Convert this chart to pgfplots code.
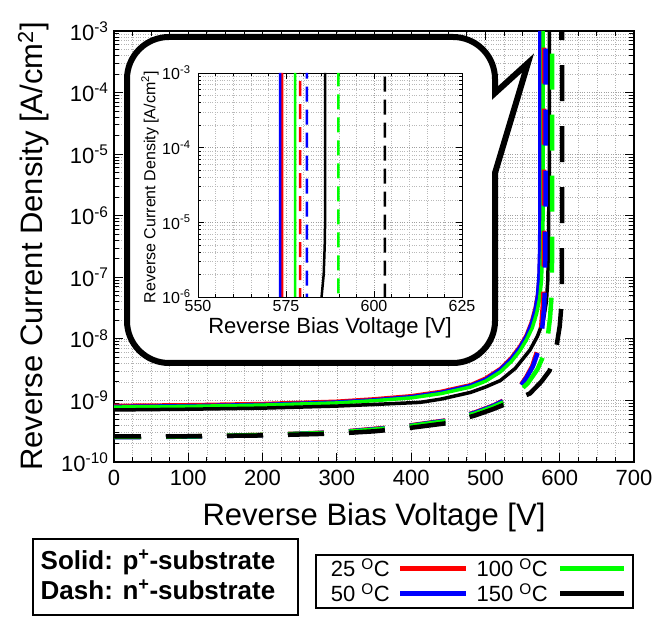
\documentclass[border=0pt]{standalone}
\usepackage{pgfplots}
\pgfplotsset{compat=1.18}
\usepackage{pgfplotstable}
\usepackage{fontspec}
\setmainfont{Liberation Sans}

% p+-substrate (solid)
\pgfplotstableread{
V J
0 8.3e-10
100 8.5e-10
200 8.9e-10
300 9.7e-10
350 1.06e-9
400 1.19e-9
440 1.40e-9
480 1.80e-9
500 2.30e-9
520 3.30e-9
535 5.00e-9
546 7.50e-9
555 1.15e-8
562 1.90e-8
567 3.20e-8
570.5 5.5e-8
572.5 1.1e-7
573.6 3.5e-7
573.9 1e-6
573.9 1e-3
}\pR
\pgfplotstableread{
V J
0 8.0e-10
100 8.2e-10
200 8.6e-10
300 9.4e-10
350 1.02e-9
400 1.15e-9
440 1.35e-9
480 1.75e-9
500 2.2e-9
520 3.2e-9
535 4.8e-9
546 7.2e-9
555 1.1e-8
562 1.8e-8
567 3.0e-8
570 5.0e-8
572 1.0e-7
573 3.0e-7
573.3 1e-6
573.3 1e-3
}\pB
\pgfplotstableread{
V J
0 7.8e-10
100 8.0e-10
200 8.4e-10
300 9.1e-10
350 9.9e-10
400 1.10e-9
440 1.29e-9
480 1.65e-9
500 2.05e-9
520 2.9e-9
535 4.3e-9
546 6.3e-9
555 9.5e-9
563 1.5e-8
569 2.6e-8
573 4.5e-8
575.5 9e-8
577 3e-7
577.6 1e-6
577.6 1e-3
}\pG
\pgfplotstableread{
V J
0 7.0e-10
100 7.2e-10
200 7.5e-10
300 8.1e-10
350 8.6e-10
412 9.3e-10
440 1.05e-9
480 1.35e-9
500 1.65e-9
520 2.1e-9
540 3.3e-9
560 6.6e-9
570 1.1e-8
578 2.0e-8
582 4.0e-8
584 9.0e-8
584.8 3e-7
585.1 1e-6
585.7 2e-6
586.0 5e-6
586.1 1e-5
586.1 1e-3
}\pK
% n+-substrate (dash)
\pgfplotstableread{
V J
0 2.55e-10
100 2.6e-10
200 2.75e-10
300 3.05e-10
350 3.45e-10
400 3.95e-10
450 4.8e-10
486 6.4e-10
510 8.2e-10
530 1.08e-9
545 1.6e-9
555 2.4e-9
563 3.6e-9
570 6.5e-9
575 1.5e-8
577.3 3.5e-8
578.5 1e-7
579.0 1e-6
579.0 1e-3
}\nR
\pgfplotstableread{
V J
0 2.53e-10
100 2.58e-10
200 2.73e-10
300 3.03e-10
350 3.4e-10
400 3.9e-10
450 4.75e-10
486 6.3e-10
510 8.1e-10
530 1.06e-9
545 1.55e-9
555 2.3e-9
564 3.6e-9
571.5 6.5e-9
576.5 1.5e-8
579.2 3.5e-8
580.4 1e-7
580.9 1e-6
580.9 1e-3
}\nB
\pgfplotstableread{
V J
0 2.55e-10
100 2.6e-10
200 2.75e-10
300 3.0e-10
350 3.35e-10
400 3.85e-10
450 4.65e-10
486 6.1e-10
510 7.8e-10
530 1.0e-9
545 1.4e-9
557 1.9e-9
570 3.2e-9
580 6e-9
584 1.1e-8
587 2.2e-8
589 5e-8
589.7 2e-7
589.9 1e-6
589.9 1e-3
}\nG
\pgfplotstableread{
V J
0 2.6e-10
100 2.62e-10
200 2.7e-10
300 2.9e-10
350 3.15e-10
400 3.6e-10
450 4.3e-10
486 5.7e-10
510 7.2e-10
530 9.0e-10
560 1.3e-9
575 2.0e-9
586 3.0e-9
592 4.5e-9
596 8e-9
600 1.6e-8
602.3 3.5e-8
603.0 1.2e-7
603.1 1e-6
603.1 1e-3
}\nK

\begin{document}
\begin{tikzpicture}[x=1pt,y=1pt]
\useasboundingbox (0,0) rectangle (669,617);
\begin{axis}[
  at={(114pt,155pt)}, anchor=south west,
  scale only axis, width=520pt, height=431pt,
  xmin=0, xmax=700, ymin=1e-10, ymax=1e-3, ymode=log,
  xtick={0,100,200,300,400,500,600,700},
  xticklabels={0,100,200,300,400,500,600,700},
  minor x tick num=3,
  ytick={1e-10,1e-9,1e-8,1e-7,1e-6,1e-5,1e-4,1e-3},
  yticklabels={10\textsuperscript{-10},10\textsuperscript{-9},10\textsuperscript{-8},10\textsuperscript{-7},10\textsuperscript{-6},10\textsuperscript{-5},10\textsuperscript{-4},10\textsuperscript{-3}},
  minor ytick={2e-10,3e-10,4e-10,5e-10,6e-10,7e-10,8e-10,9e-10,
    2e-9,3e-9,4e-9,5e-9,6e-9,7e-9,8e-9,9e-9,
    2e-8,3e-8,4e-8,5e-8,6e-8,7e-8,8e-8,9e-8,
    2e-7,3e-7,4e-7,5e-7,6e-7,7e-7,8e-7,9e-7,
    2e-6,3e-6,4e-6,5e-6,6e-6,7e-6,8e-6,9e-6,
    2e-5,3e-5,4e-5,5e-5,6e-5,7e-5,8e-5,9e-5,
    2e-4,3e-4,4e-4,5e-4,6e-4,7e-4,8e-4,9e-4},
  grid=both,
  major grid style={gray!75, dotted, line width=0.7pt},
  minor grid style={gray!60, dotted, line width=0.6pt},
  tick align=inside,
  major tick length=9pt, minor tick length=5pt,
  every tick/.style={black, line width=0.8pt},
  axis line style={black, line width=1.3pt},
  tick label style={font=\fontsize{22pt}{26pt}\selectfont},
  xticklabel style={yshift=-5pt},
  yticklabel style={xshift=-2pt},
  xlabel={Reverse Bias Voltage [V]},
  ylabel={Reverse Current Density [A/cm\textsuperscript{2}]},
  xlabel style={font=\fontsize{31pt}{35pt}\selectfont, at={(axis description cs:0.5,-0.128)}, anchor=center},
  ylabel style={font=\fontsize{31pt}{35pt}\selectfont, at={(axis description cs:-0.155,0.5)}, anchor=center},
]
\addplot[red, line width=3.5pt, line join=round] table {\pR};
\addplot[blue, line width=3.5pt, line join=round] table {\pB};
\addplot[green, line width=3.5pt, line join=round] table {\pG};
\addplot[black, line width=3.5pt, line join=round] table {\pK};
\addplot[red, line width=4.5pt, dash pattern=on 36pt off 25pt, dash phase=9pt] table {\nR};
\addplot[blue, line width=4.5pt, dash pattern=on 36pt off 25pt, dash phase=9pt] table {\nB};
\addplot[green, line width=4.5pt, dash pattern=on 36pt off 25pt, dash phase=9pt] table {\nG};
\addplot[black, line width=4.5pt, dash pattern=on 36pt off 25pt, dash phase=9pt] table {\nK};
\end{axis}

% speech bubble
\draw[line width=6pt, fill=white]
  (495,444) -- (528,554) -- (495,524) -- (495,538)
  arc[start angle=0, end angle=90, radius=42] -- (169,580)
  arc[start angle=90, end angle=180, radius=42] -- (127,296)
  arc[start angle=180, end angle=270, radius=42] -- (453,254)
  arc[start angle=270, end angle=360, radius=42] -- cycle;

\begin{axis}[
  at={(198pt,320pt)}, anchor=south west,
  scale only axis, width=264pt, height=224pt,
  xmin=550, xmax=625, ymin=1e-6, ymax=1e-3, ymode=log,
  xtick={550,575,600,625}, xticklabels={550,575,600,625},
  minor x tick num=4,
  ytick={1e-6,1e-5,1e-4,1e-3},
  yticklabels={10\textsuperscript{-6},10\textsuperscript{-5},10\textsuperscript{-4},10\textsuperscript{-3}},
  minor ytick={2e-6,3e-6,4e-6,5e-6,6e-6,7e-6,8e-6,9e-6,
    2e-5,3e-5,4e-5,5e-5,6e-5,7e-5,8e-5,9e-5,
    2e-4,3e-4,4e-4,5e-4,6e-4,7e-4,8e-4,9e-4},
  grid=both,
  major grid style={gray!75, dotted, line width=0.6pt},
  minor grid style={gray!55, dotted, line width=0.5pt},
  tick align=inside,
  major tick length=6pt, minor tick length=3pt,
  every tick/.style={black, line width=0.6pt},
  axis line style={black, line width=0.9pt},
  axis background/.style={fill=white},
  tick label style={font=\fontsize{16pt}{19pt}\selectfont},
  yticklabel style={xshift=-4pt},
  xlabel={Reverse Bias Voltage [V]},
  ylabel={Reverse Current Density [A/cm\textsuperscript{2}]},
  xlabel style={font=\fontsize{22pt}{25pt}\selectfont, at={(axis description cs:0.5,-0.136)}, anchor=center},
  ylabel style={font=\fontsize{16pt}{19pt}\selectfont, at={(axis description cs:-0.182,0.49)}, anchor=center},
]
\addplot[red, line width=2.5pt] table {\pR};
\addplot[blue, line width=2.5pt] table {\pB};
\addplot[green, line width=2.5pt] table {\pG};
\addplot[black, line width=2.5pt] table {\pK};
\addplot[red, line width=2.5pt, dash pattern=on 15pt off 8pt] table {\nR};
\addplot[blue, line width=2.5pt, dash pattern=on 15pt off 8pt] table {\nB};
\addplot[green, line width=2.5pt, dash pattern=on 15pt off 8pt] table {\nG};
\addplot[black, line width=2.5pt, dash pattern=on 15pt off 8pt] table {\nK};
\end{axis}

% legend: line styles
\draw[line width=1.3pt] (33,2) rectangle (298,78);
\node[anchor=base, font=\fontsize{26pt}{30pt}\selectfont\bfseries] at (158,47) {Solid: p\textsuperscript{+}-substrate};
\node[anchor=base, font=\fontsize{26pt}{30pt}\selectfont\bfseries] at (158,17) {Dash: n\textsuperscript{+}-substrate};

% legend: temperatures
\draw[line width=1.2pt] (316,9) rectangle (633,62);
\node[anchor=base east, inner sep=0pt, font=\fontsize{22pt}{26pt}\selectfont] at (390,40) {25 \textsuperscript{O}C};
\draw[red, line width=5pt] (400,48.7) -- (466,48.7);
\node[anchor=base east, inner sep=0pt, font=\fontsize{22pt}{26pt}\selectfont] at (548,40) {100 \textsuperscript{O}C};
\draw[green, line width=5pt] (560,48.7) -- (624,48.7);
\node[anchor=base east, inner sep=0pt, font=\fontsize{22pt}{26pt}\selectfont] at (390,15) {50 \textsuperscript{O}C};
\draw[blue, line width=5pt] (400,23) -- (466,23);
\node[anchor=base east, inner sep=0pt, font=\fontsize{22pt}{26pt}\selectfont] at (548,15) {150 \textsuperscript{O}C};
\draw[black, line width=5pt] (560,23) -- (624,23);
\end{tikzpicture}
\end{document}
